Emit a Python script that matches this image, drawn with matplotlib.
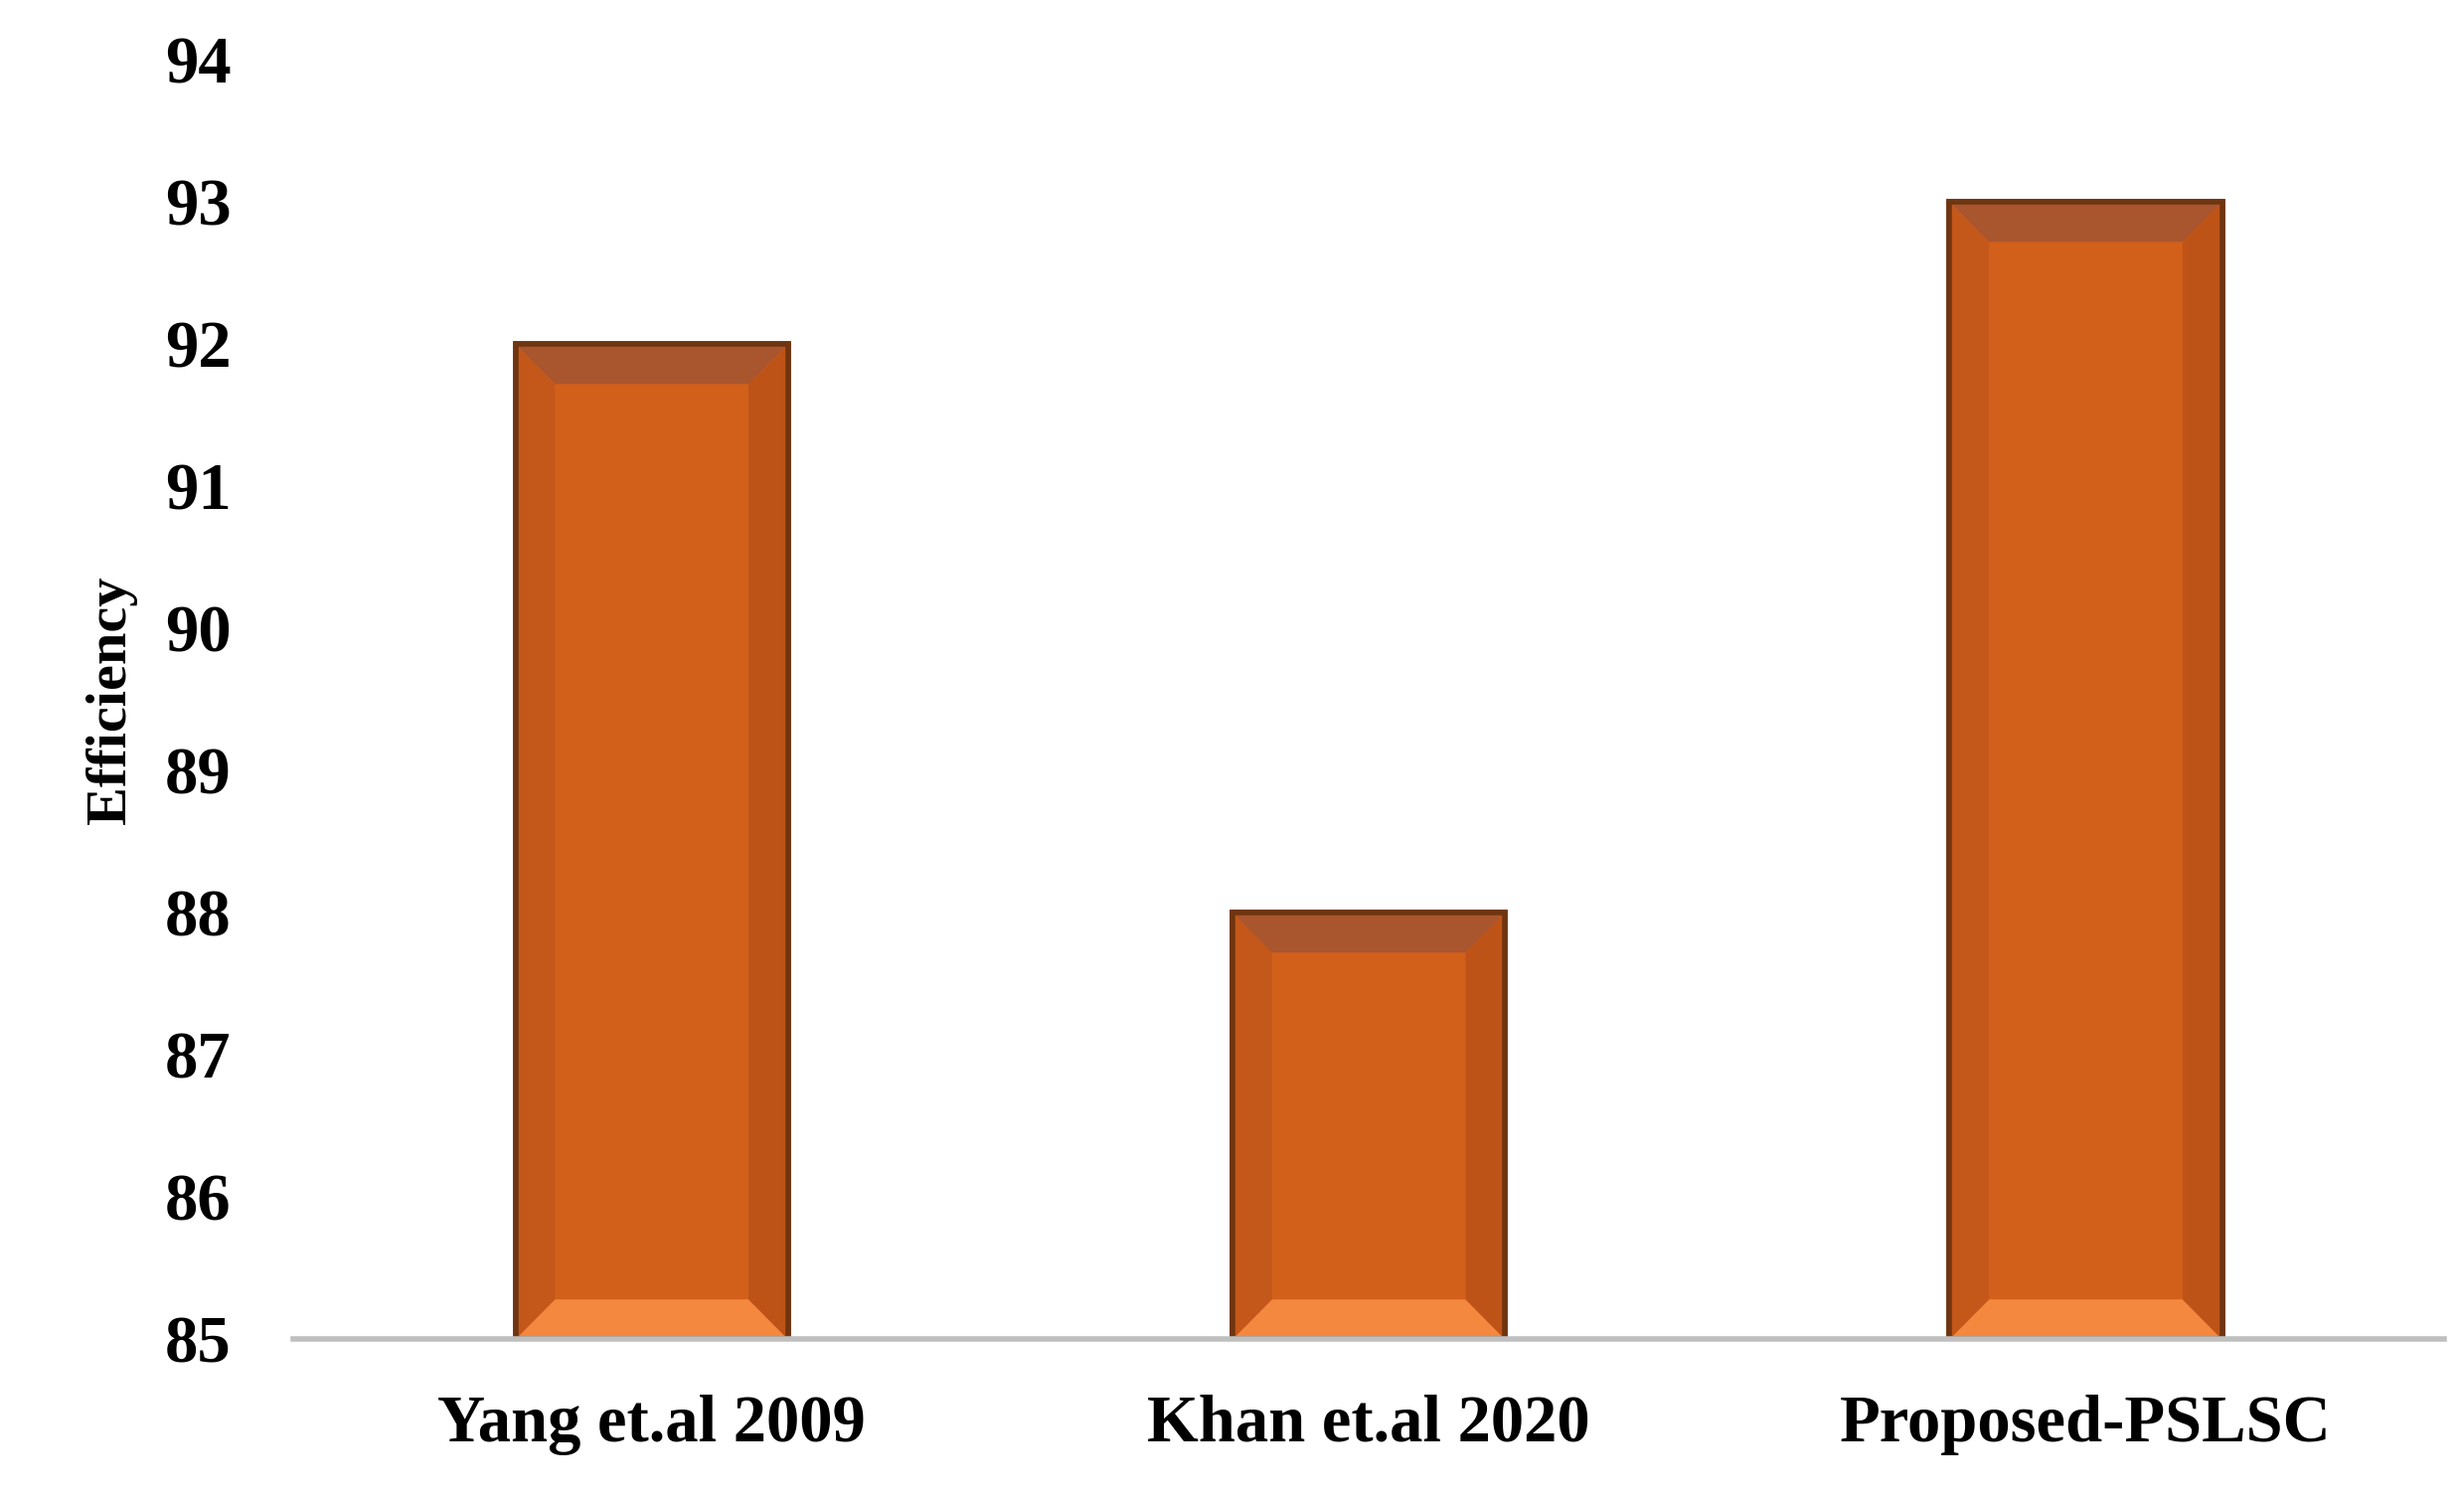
import matplotlib
matplotlib.use("Agg")
import matplotlib.pyplot as plt
from matplotlib.patches import Polygon

methods = ["Yang et.al 2009", "Khan et.al 2020", "Proposed-PSLSC"]
efficiency = [92, 88, 93]

BASE = 85
W = 0.38
DX = 0.055   # bevel depth, x units
DY = 0.28    # bevel depth, y units

plt.rcParams["font.family"] = ["Liberation Serif", "DejaVu Serif"]
plt.rcParams["font.weight"] = "bold"

fig = plt.figure(figsize=(24.79, 15.07), dpi=100)
ax = fig.add_axes([0.119, 0.106, 0.873, 0.854])

x = range(len(methods))
bars = ax.bar(x, [v - BASE for v in efficiency], W, bottom=BASE,
              color="#D2601A", edgecolor="#6E3510", linewidth=4, zorder=2)

for b in bars:
    x0, x1 = b.get_x(), b.get_x() + b.get_width()
    y0, y1 = b.get_y(), b.get_y() + b.get_height()
    faces = [
        ([(x0, y1), (x1, y1), (x1 - DX, y1 - DY), (x0 + DX, y1 - DY)], "#A9552E"),
        ([(x0, y0), (x1, y0), (x1 - DX, y0 + DY), (x0 + DX, y0 + DY)], "#F3883E"),
        ([(x0, y0), (x0, y1), (x0 + DX, y1 - DY), (x0 + DX, y0 + DY)], "#C4571A"),
        ([(x1, y0), (x1, y1), (x1 - DX, y1 - DY), (x1 - DX, y0 + DY)], "#BE5318"),
    ]
    for pts, c in faces:
        ax.add_patch(Polygon(pts, closed=True, facecolor=c, edgecolor="none", zorder=3))
    ax.add_patch(Polygon([(x0, y0), (x1, y0), (x1, y1), (x0, y1)], closed=True,
                         facecolor="none", edgecolor="#6E3510", linewidth=4, zorder=4))

ax.set_xlim(-0.5, 2.5)
ax.set_ylim(85, 94)
ax.set_yticks(range(85, 95))
ax.set_xticks(list(x))
ax.set_xticklabels(methods, fontsize=48, fontweight="bold")
ax.tick_params(axis="y", labelsize=48, length=0, pad=45)
ax.tick_params(axis="x", length=0, pad=40)
ax.set_ylabel("Efficiency", fontsize=42, fontweight="bold", labelpad=20)

for s in ["top", "right", "left"]:
    ax.spines[s].set_visible(False)
ax.spines["bottom"].set_color("#BFBFBF")
ax.spines["bottom"].set_linewidth(4)
ax.spines["bottom"].set_zorder(5)

fig.savefig("out.png", dpi=100)
